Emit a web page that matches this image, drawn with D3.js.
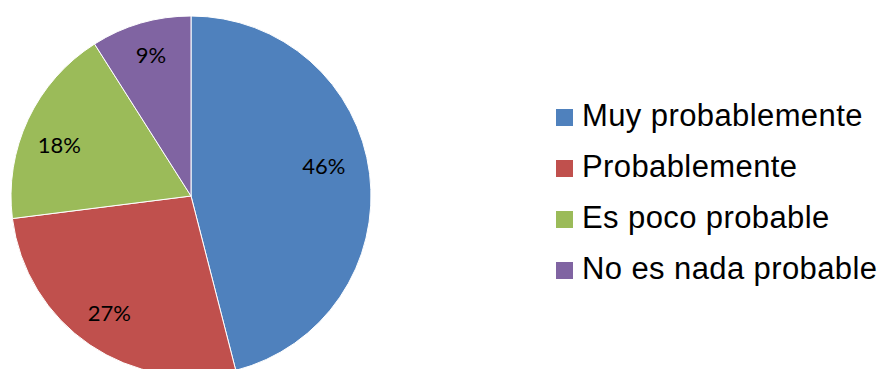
<!DOCTYPE html>
<html>
<head>
<meta charset="utf-8">
<script src="https://cdn.jsdelivr.net/npm/d3@7"></script>
<style>
  html, body { margin: 0; padding: 0; background: #fff; }
  svg { display: block; }
</style>
</head>
<body>
<svg id="chart" width="881" height="369"></svg>
<script>
// Survey answers and their shares (%)
const categories = ["Muy probablemente", "Probablemente", "Es poco probable", "No es nada probable"];
const values = [46, 27, 18, 9];
const colors = ["#4F81BD", "#C0504D", "#9BBB59", "#8064A2"];

const width = 881, height = 369;
const cx = 191, cy = 196, radius = 180;

const svg = d3.select("#chart");

const pie = d3.pie().sort(null).value(d => d.value);
const arcs = pie(categories.map((c, i) => ({ name: c, value: values[i], color: colors[i] })));

const arc = d3.arc().innerRadius(0).outerRadius(radius);
// Labels sit on a ring inside the pie, with a small best-fit style shift
const labelArc = d3.arc().innerRadius(140).outerRadius(140);
const labelShift = [[-6, -13], [-3, 1], [-5, 8], [-1, -7]];

const g = svg.append("g").attr("transform", `translate(${cx},${cy})`);

g.selectAll("path.slice")
  .data(arcs)
  .join("path")
  .attr("class", "slice")
  .attr("d", arc)
  .attr("fill", d => d.data.color)
  .attr("stroke", "#ffffff")
  .attr("stroke-width", 1);

g.selectAll("text.pct")
  .data(arcs)
  .join("text")
  .attr("class", "pct")
  .attr("x", (d, i) => labelArc.centroid(d)[0] + labelShift[i][0])
  .attr("y", (d, i) => labelArc.centroid(d)[1] + labelShift[i][1])
  .attr("text-anchor", "middle")
  .attr("dominant-baseline", "central")
  .attr("font-family", "Lato, 'Open Sans', sans-serif")
  .attr("font-size", 22)
  .attr("fill", "#000")
  .text(d => d.data.value + "%");

// Legend
const legendX = 556, legendY = 126, rowGap = 51;
const legend = svg.append("g");
const rows = legend.selectAll("g.row")
  .data(categories)
  .join("g")
  .attr("class", "row")
  .attr("transform", (d, i) => `translate(${legendX},${legendY + i * rowGap})`);

rows.append("rect")
  .attr("x", 0)
  .attr("y", -17)
  .attr("width", 17)
  .attr("height", 17)
  .attr("fill", (d, i) => colors[i]);

rows.append("text")
  .attr("x", 26)
  .attr("y", 0)
  .attr("font-family", "'Liberation Sans', Arial, sans-serif")
  .attr("font-size", 31)
  .attr("letter-spacing", 0.4)
  .attr("fill", "#000")
  .text(d => d);
</script>
</body>
</html>
